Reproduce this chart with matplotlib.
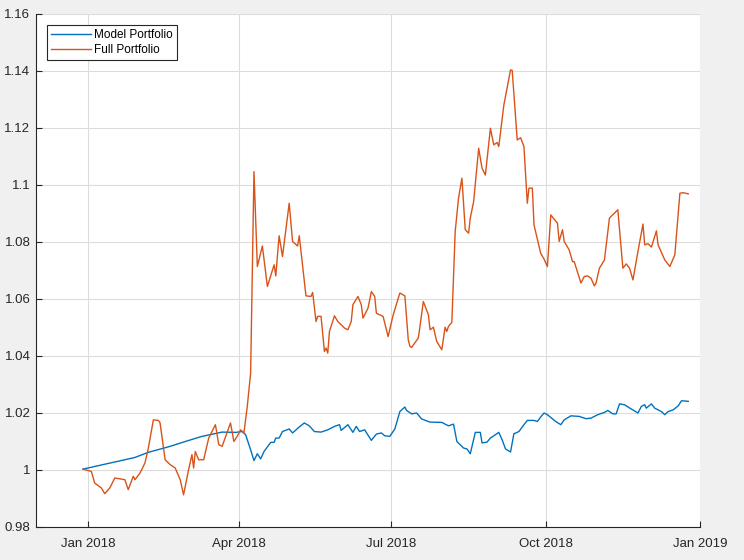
import matplotlib
matplotlib.use("Agg")
import matplotlib.pyplot as plt
import matplotlib.dates as mdates
from matplotlib.ticker import FuncFormatter, FixedLocator
import pandas as pd

model_dates = [
    "2017-12-29", "2018-01-10", "2018-01-20", "2018-01-29", "2018-02-06", "2018-02-19",
    "2018-02-28", "2018-03-10", "2018-03-22", "2018-03-30", "2018-04-03", "2018-04-05",
    "2018-04-08", "2018-04-10", "2018-04-12", "2018-04-14", "2018-04-16", "2018-04-20",
    "2018-04-22", "2018-04-23", "2018-04-25", "2018-04-27", "2018-05-01", "2018-05-03",
    "2018-05-07", "2018-05-10", "2018-05-13", "2018-05-16", "2018-05-20", "2018-05-24",
    "2018-05-28", "2018-05-31", "2018-06-01", "2018-06-05", "2018-06-08", "2018-06-10",
    "2018-06-12", "2018-06-15", "2018-06-19", "2018-06-22", "2018-06-25", "2018-06-27",
    "2018-06-30", "2018-07-03", "2018-07-06", "2018-07-09", "2018-07-10", "2018-07-13",
    "2018-07-16", "2018-07-19", "2018-07-24", "2018-07-31", "2018-08-04", "2018-08-07",
    "2018-08-09", "2018-08-13", "2018-08-15", "2018-08-17", "2018-08-20", "2018-08-23",
    "2018-08-24", "2018-08-27", "2018-08-29", "2018-09-03", "2018-09-05", "2018-09-07",
    "2018-09-10", "2018-09-12", "2018-09-15", "2018-09-18", "2018-09-20", "2018-09-24",
    "2018-09-26", "2018-09-28", "2018-09-30", "2018-10-02", "2018-10-07", "2018-10-10",
    "2018-10-12", "2018-10-16", "2018-10-21", "2018-10-25", "2018-10-28", "2018-11-01",
    "2018-11-05", "2018-11-07", "2018-11-10", "2018-11-12", "2018-11-14", "2018-11-17",
    "2018-11-21", "2018-11-25", "2018-11-27", "2018-11-29", "2018-11-30", "2018-12-03",
    "2018-12-05", "2018-12-09", "2018-12-11", "2018-12-13", "2018-12-16", "2018-12-19",
    "2018-12-21", "2018-12-25",
]
model_values = [
    1.0003, 1.0019, 1.0032, 1.0044, 1.0062, 1.0083,
    1.0100, 1.0118, 1.0133, 1.0132, 1.0135, 1.0124,
    1.0071, 1.0033, 1.0057, 1.0039, 1.0065, 1.0097,
    1.0097, 1.0112, 1.0112, 1.0135, 1.0144, 1.0130,
    1.0151, 1.0165, 1.0155, 1.0135, 1.0133, 1.0141,
    1.0153, 1.0159, 1.0139, 1.0159, 1.0132, 1.0153,
    1.0135, 1.0141, 1.0104, 1.0126, 1.0130, 1.0120,
    1.0118, 1.0144, 1.0205, 1.0221, 1.0209, 1.0197,
    1.0200, 1.0179, 1.0168, 1.0167, 1.0155, 1.0161,
    1.0100, 1.0077, 1.0074, 1.0057, 1.0132, 1.0132,
    1.0095, 1.0098, 1.0112, 1.0132, 1.0106, 1.0074,
    1.0063, 1.0127, 1.0135, 1.0159, 1.0174, 1.0174,
    1.0170, 1.0186, 1.0200, 1.0194, 1.0170, 1.0159,
    1.0176, 1.0190, 1.0188, 1.0180, 1.0182, 1.0194,
    1.0202, 1.0209, 1.0197, 1.0197, 1.0232, 1.0229,
    1.0214, 1.0200, 1.0223, 1.0229, 1.0217, 1.0232,
    1.0217, 1.0205, 1.0194, 1.0205, 1.0211, 1.0225,
    1.0243, 1.0241,
]

full_dates = [
    "2017-12-29", "2018-01-03", "2018-01-05", "2018-01-09", "2018-01-11", "2018-01-14",
    "2018-01-17", "2018-01-20", "2018-01-23", "2018-01-25", "2018-01-28", "2018-01-29",
    "2018-02-01", "2018-02-04", "2018-02-06", "2018-02-09", "2018-02-12", "2018-02-13",
    "2018-02-16", "2018-02-19", "2018-02-22", "2018-02-25", "2018-02-27", "2018-03-02",
    "2018-03-04", "2018-03-05", "2018-03-06", "2018-03-08", "2018-03-11", "2018-03-14",
    "2018-03-18", "2018-03-20", "2018-03-22", "2018-03-27", "2018-03-29", "2018-03-31",
    "2018-04-02", "2018-04-04", "2018-04-06", "2018-04-08", "2018-04-10", "2018-04-12",
    "2018-04-15", "2018-04-18", "2018-04-22", "2018-04-23", "2018-04-25", "2018-04-27",
    "2018-05-01", "2018-05-03", "2018-05-06", "2018-05-07", "2018-05-11", "2018-05-14",
    "2018-05-15", "2018-05-17", "2018-05-18", "2018-05-20", "2018-05-22", "2018-05-23",
    "2018-05-24", "2018-05-25", "2018-05-28", "2018-05-30", "2018-06-03", "2018-06-05",
    "2018-06-07", "2018-06-08", "2018-06-11", "2018-06-13", "2018-06-14", "2018-06-17",
    "2018-06-19", "2018-06-21", "2018-06-22", "2018-06-26", "2018-06-29", "2018-07-02",
    "2018-07-06", "2018-07-09", "2018-07-11", "2018-07-12", "2018-07-13", "2018-07-17",
    "2018-07-18", "2018-07-20", "2018-07-23", "2018-07-24", "2018-07-26", "2018-07-28",
    "2018-07-31", "2018-08-02", "2018-08-03", "2018-08-04", "2018-08-06", "2018-08-08",
    "2018-08-10", "2018-08-12", "2018-08-14", "2018-08-16", "2018-08-17", "2018-08-19",
    "2018-08-22", "2018-08-24", "2018-08-26", "2018-08-29", "2018-08-31", "2018-09-02",
    "2018-09-03", "2018-09-06", "2018-09-10", "2018-09-11", "2018-09-14", "2018-09-16",
    "2018-09-18", "2018-09-20", "2018-09-21", "2018-09-23", "2018-09-24", "2018-09-28",
    "2018-09-30", "2018-10-02", "2018-10-04", "2018-10-08", "2018-10-09", "2018-10-11",
    "2018-10-12", "2018-10-15", "2018-10-17", "2018-10-18", "2018-10-22", "2018-10-24",
    "2018-10-26", "2018-10-28", "2018-10-30", "2018-10-31", "2018-11-02", "2018-11-05",
    "2018-11-08", "2018-11-13", "2018-11-16", "2018-11-18", "2018-11-20", "2018-11-22",
    "2018-11-25", "2018-11-28", "2018-11-29", "2018-12-01", "2018-12-03", "2018-12-06",
    "2018-12-07", "2018-12-11", "2018-12-14", "2018-12-17", "2018-12-20", "2018-12-22",
    "2018-12-25",
]
full_values = [
    1.0003, 0.9995, 0.9954, 0.9937, 0.9917, 0.9937,
    0.9972, 0.9969, 0.9966, 0.9931, 0.9978, 0.9966,
    0.9989, 1.0025, 1.0077, 1.0176, 1.0174, 1.0165,
    1.0036, 1.0019, 1.0007, 0.9966, 0.9913, 1.0001,
    1.0054, 1.0007, 1.0065, 1.0036, 1.0036, 1.0112,
    1.0159, 1.0089, 1.0083, 1.0165, 1.0100, 1.0118,
    1.0141, 1.0130, 1.0223, 1.0340, 1.1047, 1.0714,
    1.0786, 1.0644, 1.0720, 1.0681, 1.0822, 1.0749,
    1.0936, 1.0802, 1.0786, 1.0822, 1.0611, 1.0609,
    1.0623, 1.0521, 1.0539, 1.0539, 1.0416, 1.0428,
    1.0410, 1.0486, 1.0541, 1.0521, 1.0498, 1.0492,
    1.0521, 1.0580, 1.0609, 1.0580, 1.0533, 1.0568,
    1.0626, 1.0609, 1.0550, 1.0539, 1.0468, 1.0544,
    1.0621, 1.0611, 1.0457, 1.0434, 1.0430, 1.0463,
    1.0504, 1.0591, 1.0545, 1.0492, 1.0501, 1.0451,
    1.0422, 1.0501, 1.0486, 1.0504, 1.0518, 1.0837,
    1.0954, 1.1024, 1.0843, 1.0831, 1.0884, 1.0942,
    1.1129, 1.1059, 1.1035, 1.1199, 1.1141, 1.1149,
    1.1135, 1.1280, 1.1404, 1.1402, 1.1158, 1.1166,
    1.1135, 1.0936, 1.0989, 1.0989, 1.0860, 1.0760,
    1.0740, 1.0714, 1.0895, 1.0866, 1.0802, 1.0843,
    1.0802, 1.0772, 1.0731, 1.0731, 1.0656, 1.0679,
    1.0681, 1.0673, 1.0646, 1.0656, 1.0708, 1.0737,
    1.0884, 1.0913, 1.0708, 1.0723, 1.0708, 1.0667,
    1.0767, 1.0863, 1.0790, 1.0794, 1.0782, 1.0839,
    1.0790, 1.0737, 1.0714, 1.0755, 1.0971, 1.0973,
    1.0969,
]

series_labels = ["Model Portfolio", "Full Portfolio"]
x_tick_dates = ["2018-01-01", "2018-04-01", "2018-07-01", "2018-10-01", "2019-01-01"]
x_tick_labels = ["Jan 2018", "Apr 2018", "Jul 2018", "Oct 2018", "Jan 2019"]
y_ticks = [0.98, 1.00, 1.02, 1.04, 1.06, 1.08, 1.10, 1.12, 1.14, 1.16]

plt.rcParams["font.family"] = ["Liberation Sans", "DejaVu Sans"]

fig = plt.figure(figsize=(7.44, 5.60), dpi=100, facecolor="#f0f0f0")
ax = fig.add_axes([36 / 744, 1 - 527 / 560, (700 - 36) / 744, (527 - 14) / 560])
ax.set_facecolor("white")

ax.plot(pd.to_datetime(model_dates), model_values, color="#0072BD", lw=1.0,
        label=series_labels[0])
ax.plot(pd.to_datetime(full_dates), full_values, color="#D95319", lw=1.0,
        label=series_labels[1])

ax.set_xlim(pd.Timestamp("2017-12-01"), pd.Timestamp("2019-01-01"))
ax.set_ylim(0.98, 1.16)
ax.xaxis.set_major_locator(FixedLocator(mdates.date2num(pd.to_datetime(x_tick_dates))))
ax.set_xticklabels(x_tick_labels)
ax.set_yticks(y_ticks)
ax.yaxis.set_major_formatter(FuncFormatter(lambda v, p: "%g" % round(v, 4)))

ax.grid(True, color="#dcdcdc", lw=0.8)
ax.set_axisbelow(True)
for s in ["top", "right"]:
    ax.spines[s].set_visible(False)
for s in ["left", "bottom"]:
    ax.spines[s].set_color("#262626")
    ax.spines[s].set_linewidth(0.8)
ax.tick_params(direction="in", length=4, width=0.8, colors="#262626",
               labelsize=9.5)
ax.tick_params(axis="y", pad=4)
ax.tick_params(axis="x", pad=8)

leg = ax.legend(loc="upper left", fontsize=8.5, frameon=True, fancybox=False,
                edgecolor="#262626", framealpha=1, borderaxespad=0.9,
                handlelength=3.4, handletextpad=0.3, borderpad=0.35,
                labelspacing=0.3)
leg.get_frame().set_linewidth(0.8)

fig.savefig("out.png", dpi=100, facecolor=fig.get_facecolor())
